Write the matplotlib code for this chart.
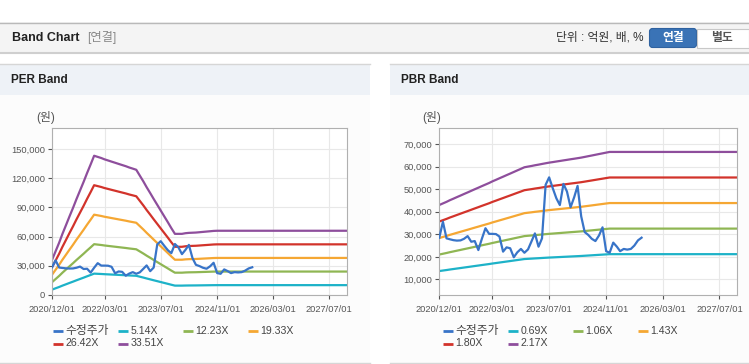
import numpy as np
import pandas as pd
import matplotlib.pyplot as plt
from matplotlib.patches import Rectangle, FancyBboxPatch
from matplotlib.ticker import FuncFormatter

plt.rcParams['font.family'] = ['Liberation Sans', 'Noto Sans CJK KR']

# monthly adjusted price (수정주가)
price_dates = pd.date_range('2020-12-01', '2025-09-01', freq='MS')
price = [28500, 35600, 28200, 27800, 27400, 27200, 27300, 28000, 29200, 26700,
         27000, 23000, 28000, 32700, 30200, 30200, 30100, 29000, 22300, 24200,
         23800, 19800, 22000, 23500, 21800, 23300, 27000, 30400, 24500, 28200,
         52000, 55300, 50500, 46000, 43000, 52400, 49000, 42000, 46500, 51500,
         38000, 31000, 29700, 28000, 27000, 29500, 33100, 22500, 21800, 26300,
         24500, 22500, 23500, 23200, 23500, 25000, 27300, 28500]

# band base values (EPS for PER, BPS for PBR), monthly then flat to the end
band_dates = list(pd.date_range('2020-12-01', '2024-12-01', freq='MS')) + [pd.Timestamp('2027-12-01')]
eps = [1075, 1340, 1605, 1870, 2140, 2405, 2670, 2940, 3205, 3470, 3740, 4005, 4270,
       4235, 4200, 4160, 4125, 4090, 4055, 4020, 3985, 3950, 3910, 3875, 3840,
       3660, 3480, 3305, 3125, 2945, 2765, 2590, 2410, 2230, 2050, 1875, 1875,
       1875, 1895, 1905, 1910, 1915, 1925, 1935, 1945, 1955, 1965, 1970, 1970,
       1970]
bps = [19830, 20150, 20470, 20800, 21120, 21440, 21760, 22080, 22400, 22730, 23050,
       23370, 23690, 24010, 24330, 24660, 24980, 25300, 25620, 25940, 26260, 26590,
       26910, 27230, 27550, 27690, 27820, 27960, 28090, 28230, 28370, 28500, 28610,
       28730, 28840, 28960, 29070, 29190, 29300, 29410, 29530, 29670, 29820, 29960,
       30110, 30260, 30400, 30550, 30690, 30690]

per_mult = [5.14, 12.23, 19.33, 26.42, 33.51]
pbr_mult = [0.69, 1.06, 1.43, 1.80, 2.17]
per_labels = ['수정주가', '5.14X', '12.23X', '19.33X', '26.42X', '33.51X']
pbr_labels = ['수정주가', '0.69X', '1.06X', '1.43X', '1.80X', '2.17X']
band_colors = ['#1db2c8', '#8fb653', '#f5a733', '#d2332b', '#8e4e9c']
price_color = '#3874c8'
x_ticks = ['2020/12/01', '2022/03/01', '2023/07/01', '2024/11/01', '2026/03/01', '2027/07/01']
per_yticks = [0, 30000, 60000, 90000, 120000, 150000]
pbr_yticks = [10000, 20000, 30000, 40000, 50000, 60000, 70000]

W, H = 749, 364
fig = plt.figure(figsize=(W / 100, H / 100), dpi=100)

# page background in pixel coordinates
bg = fig.add_axes([0, 0, 1, 1], zorder=0)
bg.set_xlim(0, W)
bg.set_ylim(H, 0)
bg.axis('off')

bg.add_patch(Rectangle((0, 22), W, 31, fc='#f4f4f4', ec='none'))
bg.plot([0, W], [22.5, 22.5], color='#b9b9b9', lw=1)
bg.plot([0, W], [53, 53], color='#cfcfcf', lw=1.5)
bg.text(12, 38, 'Band Chart', fontsize=9, fontweight='bold', color='#222222', va='center')
bg.text(87, 38, '[연결]', fontsize=8.8, color='#888888', va='center')
bg.text(643, 38, '단위 : 억원, 배, %', fontsize=8.5, color='#333333', va='center', ha='right')
bg.add_patch(FancyBboxPatch((649.5, 28.5), 47, 19, boxstyle='round,pad=0,rounding_size=3',
                            fc='#3a73b6', ec='#2f62a0', lw=0.8))
bg.text(673, 38, '연결', fontsize=8.5, fontweight='bold', color='white', va='center', ha='center')
bg.add_patch(Rectangle((697, 28.5), 52, 19, fc='white', ec='#c8c8c8', lw=0.8))
bg.text(722, 38, '별도', fontsize=8.5, fontweight='bold', color='#555555', va='center', ha='center')

for px0, px1, title in [(0, 370, 'PER Band'), (390, W, 'PBR Band')]:
    bg.add_patch(Rectangle((px0, 95), px1 - px0, 268, fc='#fcfcfc', ec='none'))
    bg.add_patch(Rectangle((px0, 64), px1 - px0, 31, fc='#eef2f7', ec='none'))
    bg.plot([px0, px1], [63.5, 63.5], color='#d6d6d6', lw=1)
    bg.plot([px0, px1], [362.5, 362.5], color='#d6d6d6', lw=1)
    bg.text(px0 + 11, 80, title, fontsize=8.5, fontweight='bold', color='#222222', va='center')


def draw(rect, base, mults, labels, yticks, ylim, unit_x, leg_x):
    ax = fig.add_axes(rect, zorder=1)
    ax.set_facecolor('white')
    for m, c in zip(mults, band_colors):
        ax.plot(band_dates, np.array(base) * m, color=c, lw=1.6)
    ax.plot(price_dates, price, color=price_color, lw=1.6, zorder=5)
    ax.set_xlim(pd.Timestamp('2020-12-01'), pd.Timestamp('2027-12-01'))
    ax.set_ylim(*ylim)
    ax.set_xticks(pd.to_datetime(x_ticks))
    ax.set_xticklabels(x_ticks)
    ax.set_yticks(yticks)
    ax.yaxis.set_major_formatter(FuncFormatter(lambda v, p: f'{int(v):,}'))
    ax.tick_params(labelsize=6.7, colors='#555555', length=3, width=0.8, pad=2)
    ax.tick_params(axis='x', pad=4)
    ax.grid(True, color='#e8e8e8', lw=0.8)
    ax.set_axisbelow(True)
    for s in ax.spines.values():
        s.set_color('#b0b0b0')
    bg.text(unit_x, 118, '(원)', fontsize=8.5, color='#555555', va='center')

    # legend, 4 columns of 65 px
    for i, lab in enumerate(labels):
        col, row = i % 4, i // 4
        x = leg_x + 65 * col
        y = 331 + 12.5 * row
        c = price_color if i == 0 else band_colors[i - 1]
        bg.plot([x, x + 10], [y, y], color=c, lw=2, solid_capstyle='butt')
        bg.text(x + 12.5, y, lab, fontsize=8.5 if i == 0 else 7.6, color='#444444', va='center')
    return ax


draw([52 / W, 1 - 295 / H, 295 / W, 167 / H], eps, per_mult, per_labels,
     per_yticks, (0, 171600), 36, 53)
draw([439.3 / W, 1 - 295.3 / H, 298 / W, 167 / H], bps, pbr_mult, pbr_labels,
     pbr_yticks, (2900, 77100), 422, 443)

fig.savefig('out.png', dpi=100)
